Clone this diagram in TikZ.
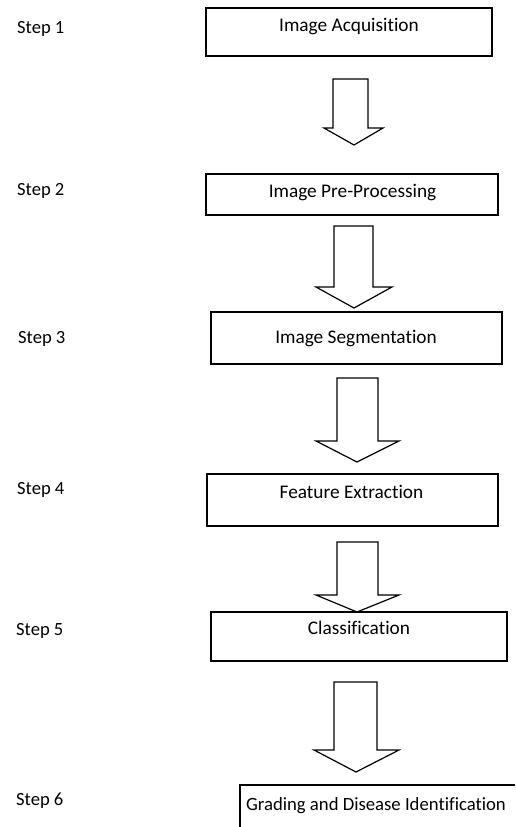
\documentclass[tikz,border=0pt]{standalone}
\usepackage{fontspec}
\setmainfont{Carlito}[Ligatures={NoCommon,NoRare,NoContextual}]
\begin{document}
\begin{tikzpicture}[x=1pt,y=-1pt,
  box/.style={draw,line width=1.2pt,inner sep=0pt},
  lbl/.style={font=\fontsize{19.3}{22}\selectfont,anchor=base,inner sep=0pt},
  steplbl/.style={font=\fontsize{18.6}{21}\selectfont,anchor=base west,inner sep=0pt},
  blk/.style={draw,line width=1.2pt,line join=miter}]
\useasboundingbox (0,0) rectangle (515,827);
% boxes
\node[box,minimum width=286pt,minimum height=48pt] (b1) at (349,32) {};
\node[box,minimum width=292pt,minimum height=41pt] (b2) at (352,194.5) {};
\node[box,minimum width=291pt,minimum height=52pt] (b3) at (356.5,338) {};
\node[box,minimum width=291pt,minimum height=52pt] (b4) at (352.5,500) {};
\node[box,minimum width=296pt,minimum height=49pt] (b5) at (359,636.5) {};
\coordinate (b6a) at (240,827);
\coordinate (b6b) at (240,785);
\coordinate (b6c) at (515,785);
\draw[line width=1.2pt] (b6a) -- (b6b) -- (b6c);
% box texts
\node[lbl] (t1) at (349,31) {Image Acquisition};
\node[lbl] (t2) at (352.5,197) {Image Pre-Processing};
\node[lbl] (t3) at (356,343) {Image Segmentation};
\node[lbl] (t4) at (351.5,498) {Feature Extraction};
\node[lbl] (t5) at (359,634) {Classification};
\node[lbl,font=\fontsize{18.7}{21}\selectfont] (t6) at (376,810) {Grading and Disease Identification};
% step labels
\node[steplbl] (s1) at (17,33) {Step 1};
\node[steplbl] (s2) at (17,195) {Step 2};
\node[steplbl] (s3) at (18,343) {Step 3};
\node[steplbl] (s4) at (17,494) {Step 4};
\node[steplbl] (s5) at (16,635) {Step 5};
\node[steplbl] (s6) at (16,805) {Step 6};
% block arrows
\draw[blk] (333,79) -- (368,79) -- (368,128) -- (383,128) -- (354,145) -- (324,128) -- (333,128) -- cycle;
\draw[blk] (334,226) -- (373,226) -- (373,287) -- (392,287) -- (354,308) -- (316,287) -- (334,287) -- cycle;
\draw[blk] (337,378) -- (378,378) -- (378,441) -- (399,441) -- (357,462) -- (316,441) -- (337,441) -- cycle;
\draw[blk] (337,542) -- (378,542) -- (378,595) -- (399,595) -- (357,612) -- (316,595) -- (337,595) -- cycle;
\draw[blk] (334,682) -- (377,682) -- (377,750) -- (399,750) -- (356,772) -- (314,750) -- (334,750) -- cycle;
\end{tikzpicture}
\end{document}
